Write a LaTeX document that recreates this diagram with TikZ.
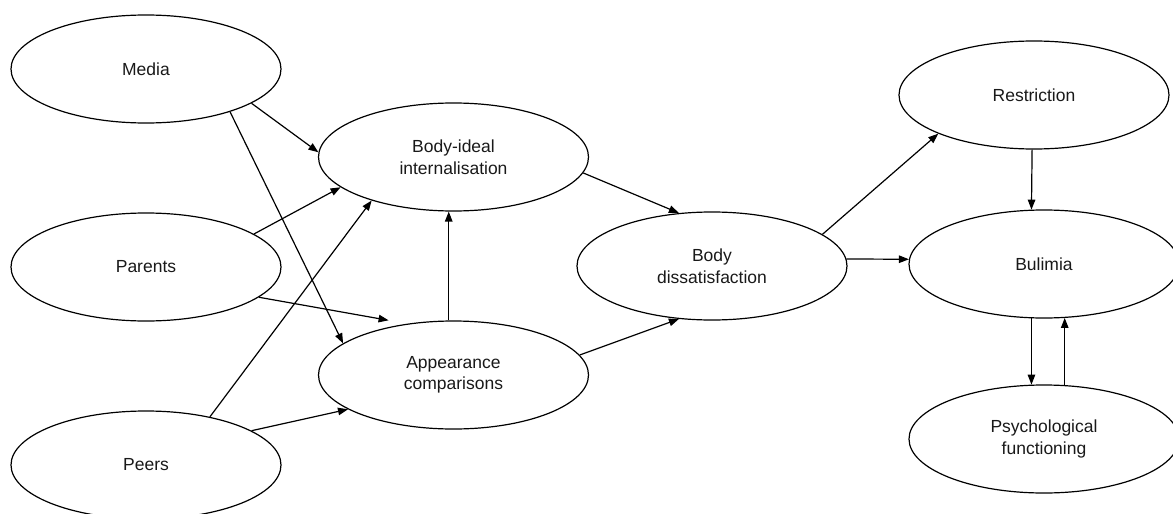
\documentclass[tikz,border=0pt]{standalone}
\usepackage{fontspec}
\setmainfont{Liberation Sans}
\usetikzlibrary{arrows.meta,shapes.geometric}
\begin{document}
\begin{tikzpicture}[x=1pt,y=-1pt,
  latent/.style={draw, ellipse, line width=1.2pt, minimum width=270pt, minimum height=108pt,
    inner sep=0pt, align=center, text=black!90, font=\fontsize{17.5}{21.5}\selectfont},
  link/.style={line width=1.2pt, -{Triangle[length=10pt,width=7.5pt]}}]
\useasboundingbox (0,0) rectangle (1173,514);
\node[latent] (media) at (146,69) {Media};
\node[latent] (parents) at (146,267) {Parents};
\node[latent] (peers) at (146,465) {Peers};
\node[latent] (ideal) at (453.5,157) {Body-ideal\\internalisation};
\node[latent] (comp) at (453.5,375) {Appearance\\comparisons};
\node[latent] (diss) at (712,266) {Body\\dissatisfaction};
\node[latent] (restr) at (1034,95) {Restriction};
\node[latent] (bul) at (1044,264) {Bulimia};
\node[latent] (psych) at (1044,439) {Psychological\\functioning};

\draw[link] (media.-18) -- (ideal.178);
\draw[link] (media.-27.4) -- (comp.164);
\draw[link] (parents.17.5) -- (ideal.-165.6);
\draw[link, shorten >=19pt] (parents.-15.9) -- (comp.132.5);
\draw[link] (peers.37.3) -- (ideal.-152.9);
\draw[link] (peers.18.1) -- (comp.-162);
\draw[link] (comp.95) -- (ideal.-95);
\draw[link] (ideal.-7.7) -- (diss.122.9);
\draw[link] (comp.9) -- (diss.-122.3);
\draw[link] (diss.16.7) -- (restr.-158.1);
\draw[link] (diss.3) -- (bul.178);
\draw[link] (restr.-92) -- (bul.103);
\draw[link] (bul.-103) -- (psych.103);
\draw[link] (psych.69.5) -- (bul.-69.5);
\end{tikzpicture}
\end{document}
